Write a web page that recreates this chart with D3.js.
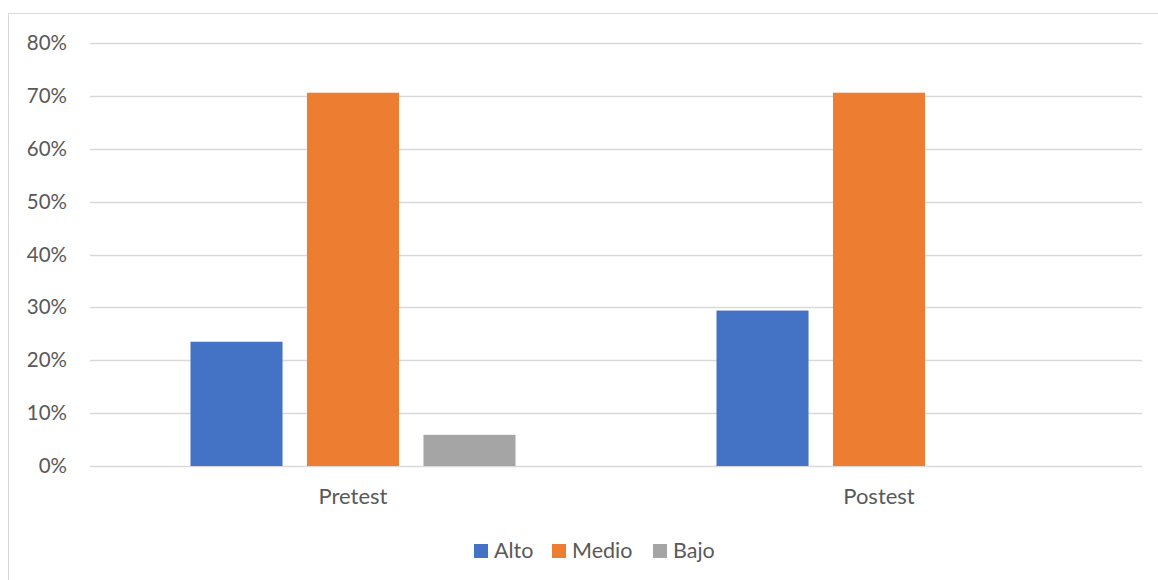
<!DOCTYPE html>
<html><head><meta charset="utf-8">
<script src="https://cdn.jsdelivr.net/npm/d3@7"></script>
<style>body{margin:0;background:#fff;} svg{display:block;}</style>
</head><body>
<svg id="c" width="1158" height="580"></svg>
<script>
const categories = ["Pretest", "Postest"];
const seriesNames = ["Alto", "Medio", "Bajo"];
const alto = [0.235, 0.294];
const medio = [0.706, 0.706];
const bajo = [0.059, 0];
const yTicks = [0, 0.1, 0.2, 0.3, 0.4, 0.5, 0.6, 0.7, 0.8];
const colors = ["#4472C4", "#ED7D31", "#A5A5A5"];

(function () {
const values = [alto, medio, bajo];
const svg = d3.select("#c");
const font = "Lato, 'Open Sans', sans-serif";

svg.append("rect").attr("x", 8.5).attr("y", 13.5).attr("width", 1160).attr("height", 580)
  .attr("fill", "none").attr("stroke", "#D9D9D9").attr("stroke-width", 1);

const pLeft = 90, pRight = 1142, pTop = 43, pBottom = 466;
const y = d3.scaleLinear().domain([0, 0.8]).range([pBottom, pTop]);
const x0 = d3.scaleBand().domain(categories).range([pLeft, pRight]).padding(0);
const x1 = d3.scaleBand().domain(seriesNames).range([0, x0.bandwidth()])
  .paddingInner(0.21).paddingOuter(0.8627);

// gridlines
svg.append("g").selectAll("line").data(yTicks).join("line")
  .attr("x1", pLeft).attr("x2", pRight)
  .attr("y1", d => Math.round(y(d)) + 0.5).attr("y2", d => Math.round(y(d)) + 0.5)
  .attr("stroke", "#D9D9D9").attr("stroke-width", 1.5);

// y axis labels
const yAxis = d3.axisLeft(y).tickValues(yTicks).tickFormat(d3.format(".0%")).tickSize(0).tickPadding(0);
const ga = svg.append("g").attr("transform", `translate(67,0)`).call(yAxis);
ga.select(".domain").remove();
ga.selectAll("text").attr("font-family", font).attr("font-size", 20.5).attr("fill", "#595959");

// bars
const groups = svg.append("g").selectAll("g").data(categories).join("g")
  .attr("transform", d => `translate(${x0(d)},0)`);
groups.selectAll("rect").data((c, i) => seriesNames.map((s, j) => ({s, v: values[j][i], j})))
  .join("rect")
  .attr("x", d => x1(d.s)).attr("width", x1.bandwidth())
  .attr("y", d => y(d.v)).attr("height", d => y(0) - y(d.v))
  .attr("fill", d => colors[d.j]);

// x labels
const xAxis = d3.axisBottom(x0).tickSize(0).tickPadding(0);
const gx = svg.append("g").attr("transform", `translate(0,${pBottom + 22})`).call(xAxis);
gx.select(".domain").remove();
gx.selectAll("text").attr("font-family", font).attr("font-size", 22).attr("fill", "#595959");

// legend
const legendX = [474, 552, 653];
const lg = svg.append("g");
seriesNames.forEach((s, i) => {
  lg.append("rect").attr("x", legendX[i]).attr("y", 544).attr("width", 14).attr("height", 14).attr("fill", colors[i]);
  lg.append("text").attr("x", legendX[i] + 20).attr("y", 558).text(s)
    .attr("font-family", font).attr("font-size", 21.5).attr("fill", "#595959");
});
})();
</script>
</body></html>
